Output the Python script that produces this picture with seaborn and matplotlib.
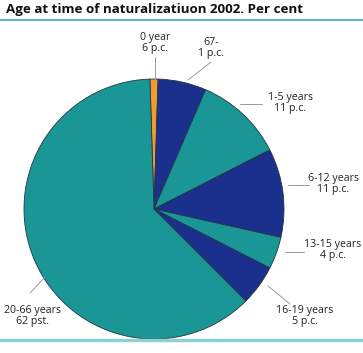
import matplotlib
matplotlib.use("Agg")
import matplotlib.pyplot as plt
import seaborn as sns
from matplotlib.lines import Line2D

# Data (slice order clockwise from the top)
age_groups = ["0 year", "67-", "1-5 years", "6-12 years", "13-15 years", "16-19 years", "20-66 years"]
shares = [1, 6, 11, 11, 4, 5, 62]
share_labels = ["6 p.c.", "1 p.c.", "11 p.c.", "11 p.c.", "4 p.c.", "5 p.c.", "62 pst."]
colors = ["#f39a2e", "#1b2f8c", "#1a9696", "#1b2f8c", "#1a9696", "#1b2f8c", "#1a9696"]

sns.set_theme(style="white")
plt.rcParams["font.family"] = ["Open Sans", "DejaVu Sans"]

W, H = 363, 353
CX, CY, R = 154, 209, 130

fig = plt.figure(figsize=(W / 100, H / 100), dpi=100)
ax = fig.add_axes([0, 0, 1, 1])

ax.pie(shares, colors=colors, startangle=90 + 1.8, counterclock=False,
       radius=1, wedgeprops=dict(edgecolor="#1f3640", linewidth=0.6))

ax.set_xlim(-CX / R, (W - CX) / R)
ax.set_ylim(-(H - CY) / R, CY / R)
ax.set_aspect("equal")
ax.axis("off")


def px(x, y):
    return ((x - CX) / R, (CY - y) / R)


# label text centre and leader line (pixel coords)
label_pos = [(155, 43), (211, 48), (290, 103), (333, 184), (333, 250), (305, 316), (32, 316)]
leaders = [((155, 57), (155, 80)), ((211, 62), (188, 80)), ((240, 104), (262, 104)),
           ((288, 185), (309, 185)), ((285, 252), (304, 252)), ((268, 286), (290, 304)),
           ((30, 293), (45, 277))]

for name, pct, (tx, ty), (p0, p1) in zip(age_groups, share_labels, label_pos, leaders):
    ax.text(*px(tx, ty), f"{name}\n{pct}", ha="center", va="center",
            fontsize=7.7, color="#222222", linespacing=1.1)
    a, b = px(*p0), px(*p1)
    ax.plot([a[0], b[0]], [a[1], b[1]], color="#9a9a9a", lw=0.7)

fig.text(6 / W, 1 - 10 / H, "Age at time of naturalizatiuon 2002. Per cent",
         fontsize=9.6, fontweight="bold", ha="left", va="center", color="#111111")
fig.add_artist(Line2D([0, 1], [1 - 20 / H, 1 - 20 / H], color="#3aa8b0", lw=1.2))
fig.add_artist(Line2D([0, 1], [1 - 340 / H, 1 - 340 / H], color="#8fd0d0", lw=2.5))

fig.savefig("out.png", dpi=100)
